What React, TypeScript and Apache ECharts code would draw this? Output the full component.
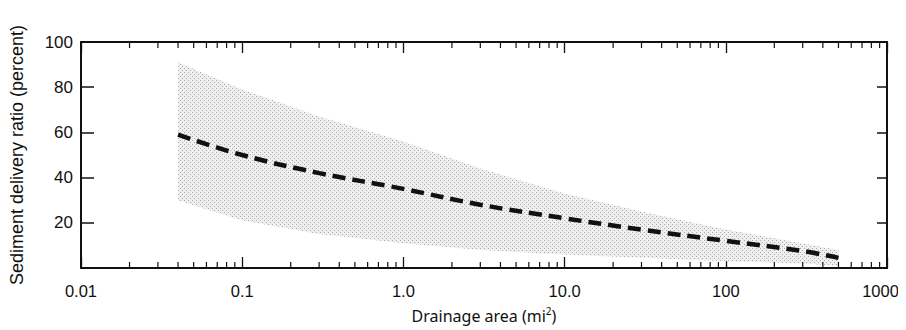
import React, { useEffect, useRef } from "react";
import * as echarts from "echarts";

// Drainage area (mi^2) sample positions along the curve/band
const areas = [0.04, 0.1, 0.3, 1, 3, 10, 30, 100, 300, 500];
// Mean sediment delivery ratio (percent)
const meanRatio = [59, 50, 42, 35, 28, 22, 17, 12, 7.5, 4.5];
// Envelope of the shaded band (percent)
const bandUpper = [91, 79, 67, 56, 44, 33, 25, 17, 11, 8];
const bandLower = [30, 21, 15, 11, 8, 6, 4.5, 3, 2, 1];
// Axis tick labels
const xTickLabels = ["0.01", "0.1", "1.0", "10.0", "100", "1000"];
const yTickLabels = ["", "20", "40", "60", "80", "100"];
// minor tick layout on the log axis
const decades = [0.01, 0.1, 1, 10, 100];
const minorMultipliers = [2, 3, 4, 5, 6, 7, 8, 9];

const FONT = "'Liberation Sans', Arial, sans-serif";

function makeStipple(): string {
  const c = document.createElement("canvas");
  c.width = 4;
  c.height = 4;
  const ctx = c.getContext("2d");
  if (!ctx) return "";
  ctx.fillStyle = "#efefef";
  ctx.fillRect(0, 0, 4, 4);
  ctx.fillStyle = "#aaaaaa";
  ctx.fillRect(0, 0, 1, 1);
  ctx.fillRect(2, 2, 1, 1);
  return c.toDataURL();
}

const mkAxisLine = () => ({ show: true, onZero: false, lineStyle: { color: "#111", width: 2 } });

export default function App() {
  const ref = useRef<HTMLDivElement>(null);

  useEffect(() => {
    if (!ref.current) return;
    const chart = echarts.init(ref.current, null, { renderer: "svg" });

    const stipple = makeStipple();
    const meanData = areas.map((a, i) => [a, meanRatio[i]]);
    const minorTicks: number[][] = [];
    decades.forEach((d) => minorMultipliers.forEach((m) => minorTicks.push([d * m, 0])));

    const xLabelFmt = (v: number) => {
      const idx = Math.round(Math.log10(v)) + 2;
      const s = xTickLabels[idx] ?? "";
      return idx === xTickLabels.length - 1 ? `{last|${s}}` : s;
    };

    chart.setOption({
      animation: false,
      grid: { left: 81, right: 19, top: 42, bottom: 62, containLabel: false },
      xAxis: [
        {
          type: "log",
          logBase: 10,
          min: 0.01,
          max: 1000,
          position: "bottom",
          axisLine: mkAxisLine(),
          axisTick: { show: true, inside: true, length: 11, lineStyle: { color: "#111", width: 1.3 } },
          axisLabel: {
            formatter: xLabelFmt,
            fontFamily: FONT,
            fontSize: 16.5,
            color: "#111",
            margin: 14,
            rich: {
              last: { fontFamily: FONT, fontSize: 16.5, color: "#111", padding: [0, 13, 0, 0] },
            },
          },
          splitLine: { show: false },
          name: "Drainage area (mi{sup|2})",
          nameLocation: "middle",
          nameGap: 38,
          nameTextStyle: {
            fontFamily: "'Noto Sans', sans-serif",
            fontSize: 16,
            color: "#111",
            rich: {
              sup: { fontSize: 10, fontFamily: "'Noto Sans', sans-serif", color: "#111", padding: [0, 0, 9, 0] },
            },
          },
        },
        {
          type: "log",
          logBase: 10,
          min: 0.01,
          max: 1000,
          position: "top",
          axisLine: mkAxisLine(),
          axisTick: { show: true, inside: true, length: 11, lineStyle: { color: "#111", width: 1.3 } },
          axisLabel: { show: false },
          splitLine: { show: false },
        },
      ],
      yAxis: [
        {
          type: "value",
          min: 0,
          max: 100,
          interval: 20,
          position: "left",
          axisLine: mkAxisLine(),
          axisTick: { show: true, inside: true, length: 13, lineStyle: { color: "#111", width: 1.5 } },
          axisLabel: {
            formatter: (v: number) => yTickLabels[Math.round(v / 20)] ?? "",
            fontFamily: FONT,
            fontSize: 17,
            color: "#111",
            margin: 8,
          },
          splitLine: { show: false },
          name: "Sediment delivery ratio (percent)",
          nameLocation: "middle",
          nameGap: 55,
          nameTextStyle: { fontFamily: FONT, fontSize: 18, color: "#111" },
        },
        {
          type: "value",
          min: 0,
          max: 100,
          interval: 20,
          position: "right",
          axisLine: mkAxisLine(),
          axisTick: { show: true, inside: true, length: 10, lineStyle: { color: "#111", width: 1.5 } },
          axisLabel: { show: false },
          splitLine: { show: false },
        },
      ],
      series: [
        {
          type: "custom",
          name: "band",
          data: [[areas[0], bandUpper[0]]],
          silent: true,
          z: 1,
          renderItem: (params: any, api: any) => {
            const pts: number[][] = [];
            areas.forEach((a, i) => pts.push(api.coord([a, bandUpper[i]])));
            for (let i = areas.length - 1; i >= 0; i--) pts.push(api.coord([areas[i], bandLower[i]]));
            return {
              type: "polygon",
              shape: { points: pts },
              style: {
                fill: stipple ? { image: stipple, repeat: "repeat" } : "#dedede",
              },
            };
          },
        },
        {
          type: "line",
          name: "mean",
          data: meanData,
          smooth: 0.4,
          showSymbol: false,
          lineStyle: { color: "#111", width: 4.5, type: [13, 7], cap: "butt" },
          silent: true,
          z: 5,
        },
        {
          type: "custom",
          name: "minorTicks",
          data: minorTicks,
          silent: true,
          clip: false,
          z: 6,
          renderItem: (params: any, api: any) => {
            const x = api.value(0);
            const b = api.coord([x, 0]);
            const t = api.coord([x, 100]);
            const style = { stroke: "#111", lineWidth: 1.2 };
            return {
              type: "group",
              children: [
                { type: "line", shape: { x1: b[0], y1: b[1], x2: b[0], y2: b[1] - 6 }, style },
                { type: "line", shape: { x1: t[0], y1: t[1], x2: t[0], y2: t[1] + 6 }, style },
              ],
            };
          },
        },
      ],
    });

    return () => chart.dispose();
  }, []);

  return <div ref={ref} style={{ width: 906, height: 330, marginLeft: -8, marginTop: -8 }} />;
}
